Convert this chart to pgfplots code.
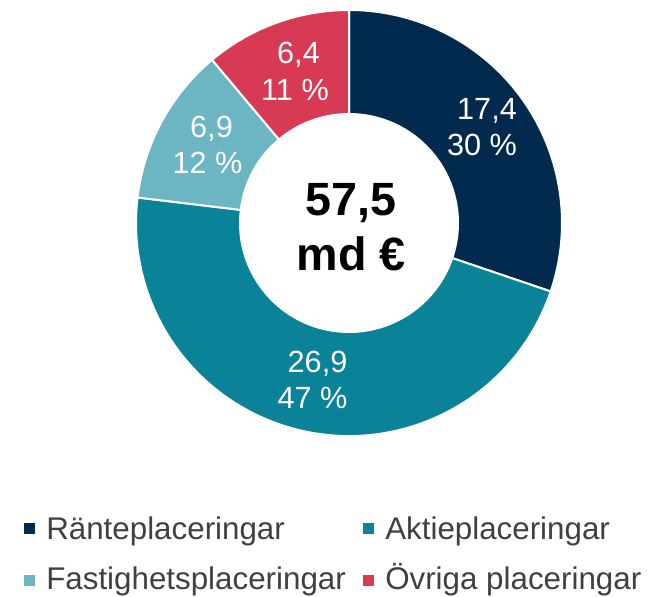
\documentclass[border=0pt]{standalone}
\usepackage{pgfplots}
\pgfplotsset{compat=1.18}
\usepackage{fontspec}
\setmainfont{Liberation Sans}
\definecolor{cRan}{HTML}{012A4E}
\definecolor{cAkt}{HTML}{0A8398}
\definecolor{cFas}{HTML}{6CB5C2}
\definecolor{cOvr}{HTML}{D93A53}
\definecolor{cLeg}{HTML}{404040}
% values (md EUR)
\def\vRan{17.4}\def\vAkt{26.9}\def\vFas{6.9}\def\vOvr{6.4}
\pgfmathsetmacro\tot{\vRan+\vAkt+\vFas+\vOvr}
\pgfmathsetmacro\aA{90}
\pgfmathsetmacro\aB{\aA-360*\vRan/\tot}
\pgfmathsetmacro\aC{\aB-360*\vAkt/\tot}
\pgfmathsetmacro\aD{\aC-360*\vFas/\tot}
\pgfmathsetmacro\aE{\aD-360*\vOvr/\tot}
\def\ro{159.75pt}
\def\ri{81.75pt}
\newcommand\sector[3]{%
  \fill[#1, draw=white, line width=1.5pt]
    ([shift={(#2:\ro)}]axis cs:349,223) arc[start angle=#2, end angle=#3, radius=\ro]
    -- ([shift={(#3:\ri)}]axis cs:349,223) arc[start angle=#3, end angle=#2, radius=\ri] -- cycle;}
\begin{document}
\begin{tikzpicture}
\begin{axis}[
  width=489.75pt, height=447pt, scale only axis,
  xmin=0, xmax=653, ymin=0, ymax=596, y dir=reverse,
  hide axis, clip=false]
\addplot[draw=none] coordinates {(0,0) (653,596)};
\sector{cRan}{\aA}{\aB}
\sector{cAkt}{\aB}{\aC}
\sector{cFas}{\aC}{\aD}
\sector{cOvr}{\aD}{\aE}
% sector labels
\begin{scope}[every node/.style={text=white, font=\fontsize{23pt}{27pt}\selectfont, anchor=base, inner sep=0pt}]
\node at (axis cs:487,119) {17,4};
\node at (axis cs:482,155) {30 \%};
\node at (axis cs:317.5,372) {26,9};
\node at (axis cs:312.5,408) {47 \%};
\node at (axis cs:211.5,137) {6,9};
\node at (axis cs:207.5,173) {12 \%};
\node at (axis cs:298.5,63) {6,4};
\node at (axis cs:295,100) {11 \%};
\end{scope}
% centre
\node[anchor=base, inner sep=0pt, font=\fontsize{35pt}{40pt}\selectfont\bfseries] at (axis cs:351,215) {57,5};
\node[anchor=base, inner sep=0pt, font=\fontsize{35pt}{40pt}\selectfont\bfseries] at (axis cs:351,270) {md €};
% legend
\fill[cRan] (axis cs:24,523) rectangle (axis cs:35,534);
\fill[cAkt] (axis cs:363,523) rectangle (axis cs:374,534);
\fill[cFas] (axis cs:24,575) rectangle (axis cs:35,586);
\fill[cOvr] (axis cs:363,575) rectangle (axis cs:374,586);
\begin{scope}[every node/.style={text=cLeg, font=\fontsize{23.5pt}{28pt}\selectfont, anchor=base west, inner sep=0pt}]
\node at (axis cs:46,539) {Ränteplaceringar};
\node at (axis cs:385,539) {Aktieplaceringar};
\node at (axis cs:46,589) {Fastighetsplaceringar};
\node at (axis cs:385,589) {Övriga placeringar};
\end{scope}
\end{axis}
\end{tikzpicture}
\end{document}
